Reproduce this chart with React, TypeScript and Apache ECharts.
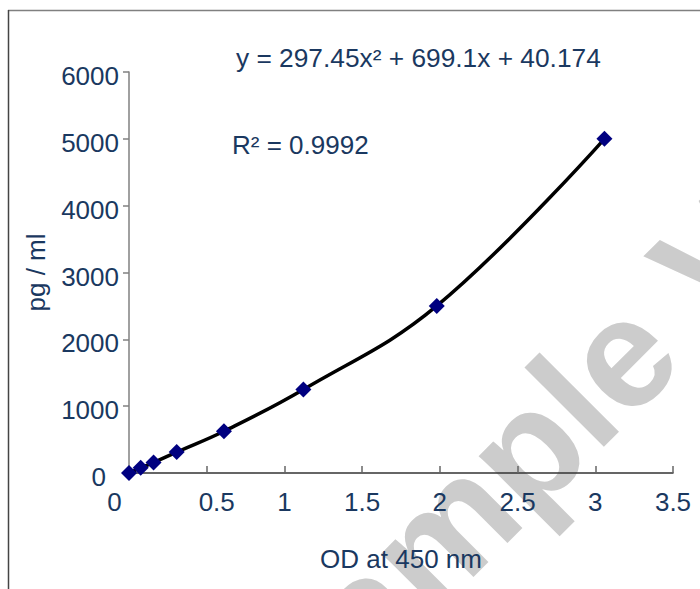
import React, { useEffect, useRef } from "react";
import * as echarts from "echarts";

const odValues = [0, 0.075, 0.158, 0.307, 0.611, 1.122, 1.98, 3.059];
const concentrations = [0, 78.125, 156.25, 312.5, 625, 1250, 2500, 5000];
const equationText = "y = 297.45x² + 699.1x + 40.174";
const r2Text = "R² = 0.9992";
const xAxisName = "OD at 450 nm";
const yAxisName = "pg / ml";
const watermarkText = "Sample Version";

const FONT = '"Liberation Sans", Arial, Helvetica, sans-serif';
const TEXT_COLOR = "#1a3860";

export default function App() {
  const ref = useRef<HTMLDivElement>(null);

  useEffect(() => {
    document.body.style.margin = "0";
    if (!ref.current) return;
    const chart = echarts.init(ref.current, undefined, { renderer: "svg" });
    const points = odValues.map((x, i) => [x, concentrations[i]]);
    chart.setOption({
      animation: false,
      backgroundColor: "#ffffff",
      textStyle: { fontFamily: FONT },
      grid: { left: 129, right: 27, top: 72, bottom: 116, containLabel: false },
      xAxis: {
        type: "value",
        min: 0,
        max: 3.5,
        interval: 0.5,
        name: xAxisName,
        nameLocation: "middle",
        nameGap: 73,
        nameTextStyle: { fontSize: 26, color: TEXT_COLOR, fontFamily: FONT },
        axisLine: { show: true, onZero: false, lineStyle: { color: "#333333", width: 1.5 } },
        axisTick: { show: true, inside: true, length: 7, lineStyle: { color: "#666666", width: 1.5 } },
        splitLine: { show: false },
        axisLabel: {
          margin: 16,
          fontSize: 26,
          color: TEXT_COLOR,
          fontFamily: FONT,
          formatter: (v: number) => {
            if (v === 0) return "{z|0}";
            if (v === 0.5) return "{h|0.5}";
            return String(v);
          },
          rich: {
            z: { fontSize: 26, color: TEXT_COLOR, fontFamily: FONT, padding: [0, 29, 0, 0] },
            h: { fontSize: 26, color: TEXT_COLOR, fontFamily: FONT, padding: [0, 0, 0, 20] },
          },
        },
      },
      yAxis: {
        type: "value",
        min: 0,
        max: 6000,
        interval: 1000,
        name: yAxisName,
        nameLocation: "middle",
        nameGap: 80,
        nameTextStyle: { fontSize: 26, color: TEXT_COLOR, fontFamily: FONT },
        axisLine: { show: true, lineStyle: { color: "#808080", width: 1.5 } },
        axisTick: { show: true, inside: false, length: 6, lineStyle: { color: "#808080", width: 1.5 } },
        splitLine: { show: false },
        axisLabel: {
          margin: 10,
          fontSize: 26,
          color: TEXT_COLOR,
          fontFamily: FONT,
          padding: [8, 0, 0, 0],
          formatter: (v: number) => (v === 0 ? "{z|0}" : String(v)),
          rich: {
            z: { fontSize: 26, color: TEXT_COLOR, fontFamily: FONT, padding: [0, 13, 0, 0] },
          },
        },
      },
      graphic: [
        {
          type: "text",
          x: 260,
          y: 715,
          rotation: Math.PI / 4,
          z: -10,
          silent: true,
          style: {
            text: watermarkText,
            fill: "#cccccc",
            font: `bold 155px ${FONT}`,
            textAlign: "left",
            textVerticalAlign: "middle",
          },
        },
        {
          type: "line",
          z: 5,
          shape: { x1: 8, y1: 10.5, x2: 700, y2: 10.5 },
          style: { stroke: "#808080", lineWidth: 1.5 },
        },
        {
          type: "line",
          z: 5,
          shape: { x1: 8.5, y1: 10, x2: 8.5, y2: 589 },
          style: { stroke: "#444444", lineWidth: 1.5 },
        },
        {
          type: "text",
          x: 236,
          y: 58,
          z: 5,
          style: {
            text: equationText,
            fill: TEXT_COLOR,
            font: `26.3px ${FONT}`,
            textAlign: "left",
            textVerticalAlign: "middle",
          },
        },
        {
          type: "text",
          x: 232,
          y: 145,
          z: 5,
          style: {
            text: r2Text,
            fill: TEXT_COLOR,
            font: `26px ${FONT}`,
            textAlign: "left",
            textVerticalAlign: "middle",
          },
        },
      ],
      series: [
        {
          type: "line",
          data: points,
          smooth: 0.4,
          symbol: "diamond",
          symbolSize: 16,
          showAllSymbol: true,
          lineStyle: { color: "#000000", width: 3.5 },
          itemStyle: { color: "#000080" },
          z: 3,
        },
      ],
    });
    return () => chart.dispose();
  }, []);

  return <div ref={ref} style={{ width: 700, height: 589 }} />;
}
